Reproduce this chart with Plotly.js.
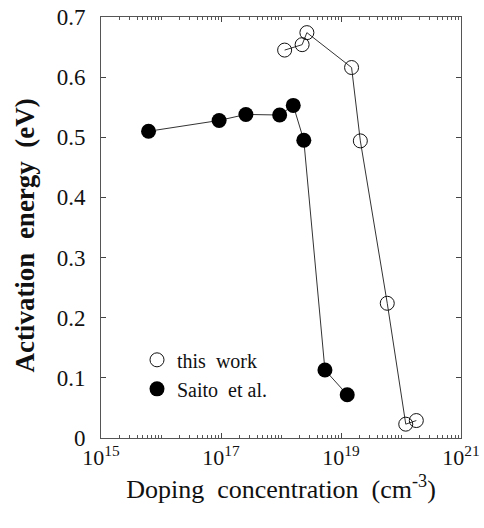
<!DOCTYPE html>
<html><head><meta charset="utf-8">
<script src="https://cdn.plot.ly/plotly-3.0.1.min.js"></script>
<style>html,body{margin:0;padding:0;background:#fff}#chart{width:484px;height:528px}</style>
</head><body><div id="chart"></div>
<script>
// This work (open circles)
const thisWorkConc = [1.15e18, 2.25e18, 2.7e18, 1.5e19, 2.1e19, 5.9e19, 1.2e20, 1.8e20];
const thisWorkEa   = [0.645, 0.654, 0.674, 0.616, 0.494, 0.224, 0.023, 0.029];
// Saito et al. (filled circles)
const saitoConc = [6.2e15, 9.3e16, 2.6e17, 9.5e17, 1.6e18, 2.4e18, 5.4e18, 1.27e19];
const saitoEa   = [0.510, 0.528, 0.538, 0.537, 0.553, 0.495, 0.113, 0.072];
const xTickVals = [1e15, 1e17, 1e19, 1e21];
const xTickText = ['10<sup>15</sup>', '10<sup>17</sup>', '10<sup>19</sup>', '10<sup>21</sup>'];
const yTickVals = [0, 0.1, 0.2, 0.3, 0.4, 0.5, 0.6, 0.7];
const yTickText = ['0', '0.1', '0.2', '0.3', '0.4', '0.5', '0.6', '0.7'];

const minorX = [];
for (let d = 15; d < 21; d++) for (let k = 2; k <= 9; k++) minorX.push(k * Math.pow(10, d));
minorX.push(1e16, 1e18, 1e20);

const serif = 'Liberation Serif';
const lineStyle = {color: '#333', width: 1};

const traces = [
  {x: thisWorkConc, y: thisWorkEa, mode: 'lines', line: lineStyle, showlegend: false, hoverinfo: 'skip'},
  {x: saitoConc, y: saitoEa, mode: 'lines', line: lineStyle, showlegend: false, hoverinfo: 'skip'},
  {x: thisWorkConc, y: thisWorkEa, mode: 'markers', name: 'this  work',
   marker: {symbol: 'circle-open', size: 14, color: '#111', line: {width: 1, color: '#111'}}},
  {x: saitoConc, y: saitoEa, mode: 'markers', name: 'Saito  et al.',
   marker: {symbol: 'circle', size: 15, color: '#000'}}
];

const layout = {
  width: 484, height: 528,
  margin: {l: 101, r: 23, t: 17, b: 90},
  paper_bgcolor: '#fff', plot_bgcolor: '#fff',
  font: {family: serif, color: '#111'},
  xaxis: {
    type: 'log', range: [15, 21],
    tickvals: xTickVals, ticktext: xTickText,
    ticks: 'inside', ticklen: 5, tickcolor: '#444',
    showline: true, linecolor: '#555', linewidth: 1, mirror: 'ticks',
    showgrid: false, zeroline: false,
    tickfont: {family: serif, size: 22, color: '#111'},
    minor: {tickvals: minorX, ticks: 'inside', ticklen: 3, tickcolor: '#555', showgrid: false},
    title: {text: 'Doping  concentration  (cm<sup>-3</sup>)', font: {family: serif, size: 26, color: '#111'}, standoff: 10}
  },
  yaxis: {
    range: [0, 0.7],
    tickvals: yTickVals, ticktext: yTickText,
    ticks: 'inside', ticklen: 5, tickcolor: '#444',
    showline: true, linecolor: '#555', linewidth: 1, mirror: 'ticks',
    showgrid: false, zeroline: false,
    ticklabelstandoff: 10,
    tickfont: {family: serif, size: 23, color: '#111'}
  },
  annotations: [{
    text: '<b>Activation  energy  (eV)</b>', textangle: -90,
    xref: 'paper', yref: 'paper', x: -0.212, y: 0.48,
    xanchor: 'center', yanchor: 'middle', showarrow: false,
    font: {family: serif, size: 27, color: '#111'}
  }],
  legend: {
    x: 0.1, y: 0.232, xanchor: 'left', yanchor: 'top',
    bgcolor: 'rgba(0,0,0,0)', font: {family: serif, size: 20, color: '#111'},
    traceorder: 'normal', tracegroupgap: 0
  }
};

Plotly.newPlot('chart', traces, layout, {displayModeBar: false, staticPlot: true});
</script></body></html>
